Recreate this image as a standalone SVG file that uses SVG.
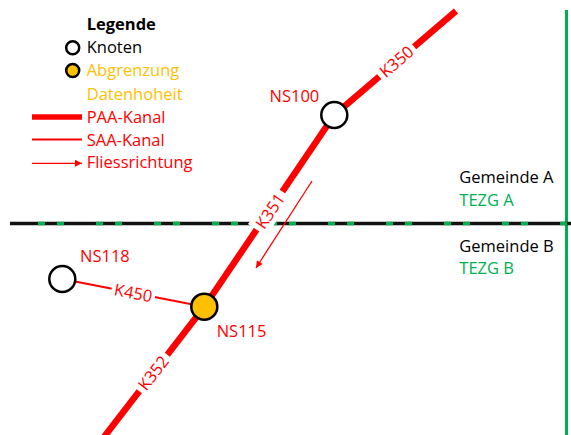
<svg xmlns="http://www.w3.org/2000/svg" width="571" height="435" viewBox="0 0 571 435">
<defs>
<style>
text{font-family:"Open Sans","Liberation Sans",sans-serif;font-size:16.5px}
.red{fill:#FF0000}
.blk{fill:#000}
.org{fill:#FFC000}
.grn{fill:#00B050}
.node{stroke:#000;stroke-width:2.5}
.paa{stroke:#FF0000;stroke-width:6.5;fill:none;stroke-linejoin:round}
.saa{stroke:#FF0000;stroke-width:2;fill:none}
.flow{stroke:#FF0000;stroke-width:1.3;fill:none}
.lblbg{fill:#fff}
</style>
<marker id="ah" viewBox="0 0 10 10" refX="10" refY="5" markerWidth="10" markerHeight="7" markerUnits="userSpaceOnUse" orient="auto">
<path d="M0,0 L10,5 L0,10 z" fill="#FF0000"/>
</marker>
</defs>
<rect width="571" height="435" fill="#fff"/>

<g id="boundaries">
<line x1="566.5" y1="10" x2="566.5" y2="435" stroke="#00B050" stroke-width="3"/>
<line x1="10" y1="223.5" x2="571" y2="223.5" stroke="#111" stroke-width="3.5"/>
<line x1="38" y1="223.5" x2="571" y2="223.5" stroke="#00B050" stroke-width="3.5" stroke-dasharray="7 12 7 32"/>
</g>

<g id="connectors">
<polyline class="paa" points="456,11 334.3,115 204.3,306.7 104,437"/>
<line class="saa" x1="62.3" y1="279" x2="204.3" y2="306.7"/>
<line class="flow" x1="312" y1="181" x2="256" y2="268" marker-end="url(#ah)"/>
<g id="lbl-K350" transform="translate(396.5,61.5) rotate(-40.4)">
<rect class="lblbg" x="-23" y="-10" width="46" height="20"/>
<text class="red" x="0" y="6" text-anchor="middle">K350</text>
</g>
<g id="lbl-K351" transform="translate(270,211) rotate(-56)">
<rect class="lblbg" x="-23" y="-11" width="46" height="22"/>
<text class="red" x="0" y="6" text-anchor="middle">K351</text>
</g>
<g id="lbl-K352" transform="translate(153.3,373) rotate(-52)">
<rect class="lblbg" x="-23" y="-10" width="46" height="20"/>
<text class="red" x="0" y="6" text-anchor="middle">K352</text>
</g>
<g id="lbl-K450" transform="translate(133.3,292.8) rotate(11)">
<rect class="lblbg" x="-22" y="-8" width="44" height="16"/>
<text class="red" x="0" y="6" text-anchor="middle">K450</text>
</g>
</g>

<g id="NS100">
<circle class="node" cx="334.3" cy="115" r="13" fill="#fff"/>
<text class="red" x="269.5" y="101.7">NS100</text>
</g>
<g id="NS115">
<circle class="node" cx="204.3" cy="306.7" r="13" fill="#FFC000"/>
<text class="red" x="216.7" y="337.3">NS115</text>
</g>
<g id="NS118">
<circle class="node" cx="62.3" cy="279" r="13" fill="#fff"/>
<text class="red" x="80" y="261.7">NS118</text>
</g>

<g id="gemeinden">
<text class="blk" x="459.3" y="183.3">Gemeinde A</text>
<text class="grn" x="459.3" y="205.7">TEZG A</text>
<text class="blk" x="459.3" y="251.7">Gemeinde B</text>
<text class="grn" x="459.3" y="274">TEZG B</text>
</g>

<g id="legend">
<text class="blk" x="86.7" y="30" font-weight="bold">Legende</text>
<circle class="node" cx="72.7" cy="47.7" r="6.5" fill="#fff" stroke-width="2"/>
<text class="blk" x="86.7" y="53.3">Knoten</text>
<circle class="node" cx="72.7" cy="70.5" r="6.5" fill="#FFC000" stroke-width="2"/>
<text class="org" x="86.7" y="76">Abgrenzung</text>
<text class="org" x="86.7" y="100">Datenhoheit</text>
<line x1="32" y1="117" x2="82" y2="117" stroke="#FF0000" stroke-width="5.5"/>
<text class="red" x="86.7" y="122.7">PAA-Kanal</text>
<line class="saa" x1="32" y1="139.5" x2="82" y2="139.5"/>
<text class="red" x="86.7" y="146">SAA-Kanal</text>
<line class="flow" x1="32" y1="163.3" x2="82" y2="163.3" marker-end="url(#ah)"/>
<text class="red" x="86.7" y="168.3">Fliessrichtung</text>
</g>
</svg>
